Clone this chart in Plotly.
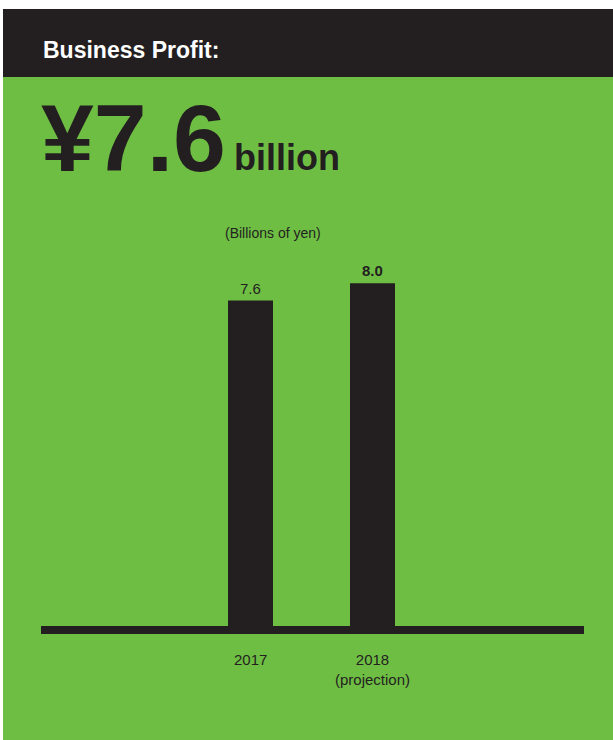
import plotly.graph_objects as go

# Business profit, billions of yen
years = ["2017", "2018"]
year_notes = ["", "(projection)"]
profit = [7.6, 8.0]
label_text = ["7.6", "<b>8.0</b>"]
headline_value = "¥7.6"
headline_unit = "billion"

W, H = 613, 740
GREEN = "#6fbe44"
DARK = "#231f20"
FONT = "Liberation Sans, Arial, sans-serif"

# plot area in pixels
L, R, T, B = 41, 584, 250, 650
px_per_unit = 43.35
zero_px = 630


def pxx(x):
    return (x - L) / (R - L)


def pxy(y):
    return (B - y) / (B - T)


xpos = list(range(len(years)))
spacing = 122.0
left_off = (250.5 - L) / spacing
right_off = (R - 250.5) / spacing

fig = go.Figure()
fig.add_trace(go.Bar(
    x=xpos, y=profit, width=45 / spacing,
    marker=dict(color=DARK, line=dict(width=0)),
    hoverinfo="skip",
))

shapes = [
    dict(type="rect", xref="paper", yref="paper", x0=pxx(3), x1=pxx(W + 5),
         y0=pxy(H + 5), y1=pxy(77), fillcolor=GREEN, line=dict(width=0), layer="below"),
    dict(type="rect", xref="paper", yref="paper", x0=pxx(3), x1=pxx(W + 5),
         y0=pxy(77), y1=pxy(9), fillcolor=DARK, line=dict(width=0), layer="below"),
    dict(type="line", xref="paper", yref="y", x0=0, x1=1, y0=0, y1=0,
         line=dict(color=DARK, width=8)),
]

annotations = [
    dict(text="<b>Business Profit:</b>", xref="paper", yref="paper",
         x=pxx(41), y=pxy(50), xanchor="left", yanchor="middle", showarrow=False,
         font=dict(family=FONT, size=23, color="white")),
    dict(text="<b>" + headline_value + "</b>", xref="paper", yref="paper",
         x=pxx(39), y=pxy(138), xanchor="left", yanchor="middle", showarrow=False,
         font=dict(family=FONT, size=95, color=DARK)),
    dict(text="<b>" + headline_unit + "</b>", xref="paper", yref="paper",
         x=pxx(232), y=pxy(157), xanchor="left", yanchor="middle", showarrow=False,
         font=dict(family=FONT, size=36, color=DARK)),
    dict(text="(Billions of yen)", xref="paper", yref="paper",
         x=pxx(273), y=pxy(233), xanchor="center", yanchor="middle", showarrow=False,
         font=dict(family=FONT, size=14, color=DARK)),
]

for x, v, t in zip(xpos, profit, label_text):
    annotations.append(dict(
        text=t, x=x, y=v, xref="x", yref="y", xanchor="center", yanchor="bottom",
        yshift=2, showarrow=False, font=dict(family=FONT, size=15, color=DARK)))

for x, yr, note in zip(xpos, years, year_notes):
    txt = yr if not note else yr + "<br>" + note
    annotations.append(dict(
        text=txt, x=x, y=0, xref="x", yref="y", xanchor="center", yanchor="top",
        yshift=-19, showarrow=False, align="center",
        font=dict(family=FONT, size=15, color=DARK)))

fig.update_layout(
    width=W, height=H,
    margin=dict(l=L, r=W - R, t=T, b=H - B),
    paper_bgcolor="white", plot_bgcolor="rgba(0,0,0,0)",
    showlegend=False,
    xaxis=dict(range=[-left_off, right_off], visible=False, fixedrange=True),
    yaxis=dict(range=[-(B - zero_px) / px_per_unit, (zero_px - T) / px_per_unit],
               visible=False, fixedrange=True),
    shapes=shapes, annotations=annotations,
)

fig.write_html("out.html", config={"displayModeBar": False})
